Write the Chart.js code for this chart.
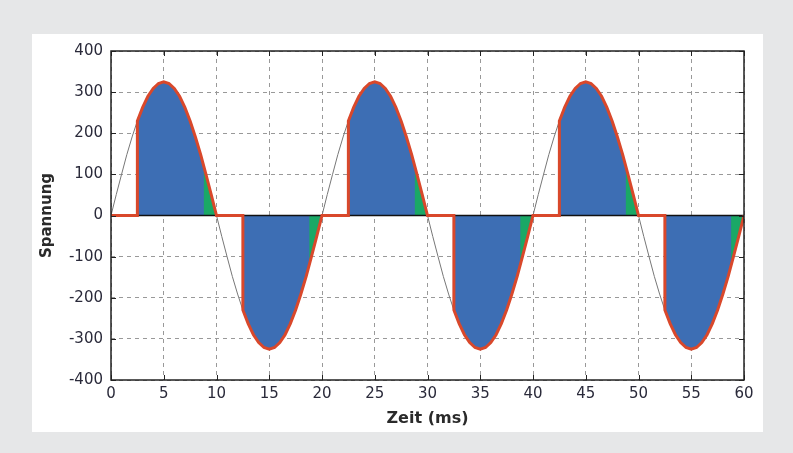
<!DOCTYPE html>
<html>
<head>
<meta charset="utf-8">
<script src="https://cdn.jsdelivr.net/npm/chart.js@4/dist/chart.umd.min.js"></script>
<style>
  html, body { margin: 0; padding: 0; background: #e6e7e8; }
  #panel { position: absolute; left: 32px; top: 34px; width: 731px; height: 398px; background: #fff; }
  #chart { display: block; }
</style>
</head>
<body>
<div id="panel"><canvas id="chart" width="731" height="398"></canvas></div>
<script>
const sineMs = [
  0, 0.5, 1, 1.5, 2, 2.5, 3, 3.5, 4, 4.5, 5, 5.5, 6, 6.5, 7, 7.5, 8, 8.5, 9, 9.5,
  10, 10.5, 11, 11.5, 12, 12.5, 13, 13.5, 14, 14.5, 15, 15.5, 16, 16.5, 17, 17.5, 18, 18.5, 19, 19.5,
  20, 20.5, 21, 21.5, 22, 22.5, 23, 23.5, 24, 24.5, 25, 25.5, 26, 26.5, 27, 27.5, 28, 28.5, 29, 29.5,
  30, 30.5, 31, 31.5, 32, 32.5, 33, 33.5, 34, 34.5, 35, 35.5, 36, 36.5, 37, 37.5, 38, 38.5, 39, 39.5,
  40, 40.5, 41, 41.5, 42, 42.5, 43, 43.5, 44, 44.5, 45, 45.5, 46, 46.5, 47, 47.5, 48, 48.5, 49, 49.5,
  50, 50.5, 51, 51.5, 52, 52.5, 53, 53.5, 54, 54.5, 55, 55.5, 56, 56.5, 57, 57.5, 58, 58.5, 59, 59.5,
  60
];
const sineV = [
  0, 51, 100, 148, 191, 230, 263, 290, 309, 321, 325, 321, 309, 290, 263, 230, 191, 148, 100, 51,
  0, -51, -100, -148, -191, -230, -263, -290, -309, -321, -325, -321, -309, -290, -263, -230, -191, -148, -100, -51,
  0, 51, 100, 148, 191, 230, 263, 290, 309, 321, 325, 321, 309, 290, 263, 230, 191, 148, 100, 51,
  0, -51, -100, -148, -191, -230, -263, -290, -309, -321, -325, -321, -309, -290, -263, -230, -191, -148, -100, -51,
  0, 51, 100, 148, 191, 230, 263, 290, 309, 321, 325, 321, 309, 290, 263, 230, 191, 148, 100, 51,
  0, -51, -100, -148, -191, -230, -263, -290, -309, -321, -325, -321, -309, -290, -263, -230, -191, -148, -100, -51,
  0
];

// Phasenanschnitt: Zuendung bei 2,5 ms nach jedem Nulldurchgang
const ctrlMs = [
  0, 2.5, 2.5, 3, 3.5, 4, 4.5, 5, 5.5, 6, 6.5, 7, 7.5, 8, 8.5, 9, 9.5, 10,
  12.5, 12.5, 13, 13.5, 14, 14.5, 15, 15.5, 16, 16.5, 17, 17.5, 18, 18.5, 19, 19.5, 20,
  22.5, 22.5, 23, 23.5, 24, 24.5, 25, 25.5, 26, 26.5, 27, 27.5, 28, 28.5, 29, 29.5, 30,
  32.5, 32.5, 33, 33.5, 34, 34.5, 35, 35.5, 36, 36.5, 37, 37.5, 38, 38.5, 39, 39.5, 40,
  42.5, 42.5, 43, 43.5, 44, 44.5, 45, 45.5, 46, 46.5, 47, 47.5, 48, 48.5, 49, 49.5, 50,
  52.5, 52.5, 53, 53.5, 54, 54.5, 55, 55.5, 56, 56.5, 57, 57.5, 58, 58.5, 59, 59.5, 60
];
const ctrlV = [
  0, 0, 230, 263, 290, 309, 321, 325, 321, 309, 290, 263, 230, 191, 148, 100, 51, 0,
  0, -230, -263, -290, -309, -321, -325, -321, -309, -290, -263, -230, -191, -148, -100, -51, 0,
  0, 230, 263, 290, 309, 321, 325, 321, 309, 290, 263, 230, 191, 148, 100, 51, 0,
  0, -230, -263, -290, -309, -321, -325, -321, -309, -290, -263, -230, -191, -148, -100, -51, 0,
  0, 230, 263, 290, 309, 321, 325, 321, 309, 290, 263, 230, 191, 148, 100, 51, 0,
  0, -230, -263, -290, -309, -321, -325, -321, -309, -290, -263, -230, -191, -148, -100, -51, 0
];

// Blauer Anteil endet bei ca. 8,8 ms jeder Halbwelle (Rest gruen)
const blueMs = [
  2.5, 2.5, 3, 3.5, 4, 4.5, 5, 5.5, 6, 6.5, 7, 7.5, 8, 8.5, 8.8, 8.8,
  12.5, 12.5, 13, 13.5, 14, 14.5, 15, 15.5, 16, 16.5, 17, 17.5, 18, 18.5, 18.8, 18.8,
  22.5, 22.5, 23, 23.5, 24, 24.5, 25, 25.5, 26, 26.5, 27, 27.5, 28, 28.5, 28.8, 28.8,
  32.5, 32.5, 33, 33.5, 34, 34.5, 35, 35.5, 36, 36.5, 37, 37.5, 38, 38.5, 38.8, 38.8,
  42.5, 42.5, 43, 43.5, 44, 44.5, 45, 45.5, 46, 46.5, 47, 47.5, 48, 48.5, 48.8, 48.8,
  52.5, 52.5, 53, 53.5, 54, 54.5, 55, 55.5, 56, 56.5, 57, 57.5, 58, 58.5, 58.8, 58.8
];
const blueV = [
  0, 230, 263, 290, 309, 321, 325, 321, 309, 290, 263, 230, 191, 148, 120, 0,
  0, -230, -263, -290, -309, -321, -325, -321, -309, -290, -263, -230, -191, -148, -120, 0,
  0, 230, 263, 290, 309, 321, 325, 321, 309, 290, 263, 230, 191, 148, 120, 0,
  0, -230, -263, -290, -309, -321, -325, -321, -309, -290, -263, -230, -191, -148, -120, 0,
  0, 230, 263, 290, 309, 321, 325, 321, 309, 290, 263, 230, 191, 148, 120, 0,
  0, -230, -263, -290, -309, -321, -325, -321, -309, -290, -263, -230, -191, -148, -120, 0
];

const zeroMs = [0, 60];
const zeroV = [0, 0];

const toPoints = (xs, ys) => xs.map((x, i) => ({ x, y: ys[i] }));

// Rahmen mit nach innen zeigenden Ticks (oben/unten/links/rechts)
const frameTicks = {
  id: 'frameTicks',
  afterDraw(chart) {
    const { ctx, chartArea: a, scales } = chart;
    const len = 5;
    ctx.save();
    ctx.strokeStyle = '#222';
    ctx.lineWidth = 1;
    ctx.beginPath();
    scales.x.ticks.forEach(t => {
      const px = Math.round(scales.x.getPixelForValue(t.value)) + 0.5;
      ctx.moveTo(px, a.top); ctx.lineTo(px, a.top + len);
      ctx.moveTo(px, a.bottom); ctx.lineTo(px, a.bottom - len);
    });
    scales.y.ticks.forEach(t => {
      const py = Math.round(scales.y.getPixelForValue(t.value)) + 0.5;
      ctx.moveTo(a.left, py); ctx.lineTo(a.left + len, py);
      ctx.moveTo(a.right, py); ctx.lineTo(a.right - len, py);
    });
    ctx.stroke();
    ctx.lineWidth = 1.5;
    ctx.strokeRect(a.left, a.top, a.right - a.left, a.bottom - a.top);
    ctx.restore();
  }
};

const fontFam = "'DejaVu Sans', Verdana, sans-serif";

new Chart(document.getElementById('chart'), {
  type: 'line',
  data: {
    datasets: [
      {
        label: 'Ausgang',
        data: toPoints(ctrlMs, ctrlV),
        borderColor: '#d9482b',
        borderWidth: 3,
        pointRadius: 0,
        fill: false
      },
      {
        label: 'Null',
        data: toPoints(zeroMs, zeroV),
        borderColor: '#111',
        borderWidth: 1.5,
        pointRadius: 0,
        fill: false
      },
      {
        label: 'blau',
        data: toPoints(blueMs, blueV),
        borderWidth: 0,
        borderColor: 'rgba(0,0,0,0)',
        backgroundColor: '#3d6eb4',
        pointRadius: 0,
        fill: 'origin'
      },
      {
        label: 'gruen',
        data: toPoints(ctrlMs, ctrlV),
        borderWidth: 0,
        borderColor: 'rgba(0,0,0,0)',
        backgroundColor: '#1aa866',
        pointRadius: 0,
        fill: 'origin'
      },
      {
        label: 'Netz',
        data: toPoints(sineMs, sineV),
        borderColor: '#777',
        borderWidth: 1,
        pointRadius: 0,
        fill: false
      }
    ]
  },
  options: {
    responsive: false,
    animation: false,
    layout: { padding: { left: 0, top: 13, right: 19, bottom: 0 } },
    plugins: {
      legend: { display: false },
      tooltip: { enabled: false }
    },
    scales: {
      x: {
        type: 'linear',
        min: 0,
        max: 60,
        ticks: { stepSize: 5, padding: 5, color: '#2a2a3a', font: { family: fontFam, size: 15 } },
        grid: { color: '#999', drawTicks: false, lineWidth: 1 },
        border: { display: false, dash: [4, 4] },
        title: {
          display: true,
          text: 'Zeit (ms)',
          color: '#2a2a2a',
          font: { family: fontFam, size: 16, weight: 'bold' },
          padding: { top: 0, bottom: 4 }
        },
        afterFit(s) { s.height = 52; }
      },
      y: {
        min: -400,
        max: 400,
        ticks: { stepSize: 100, padding: 8, color: '#2a2a3a', font: { family: fontFam, size: 15 } },
        grid: { color: '#999', drawTicks: false, lineWidth: 1 },
        border: { display: false, dash: [4, 4] },
        title: {
          display: true,
          text: 'Spannung',
          color: '#2a2a2a',
          font: { family: fontFam, size: 15, weight: 'bold' },
          padding: { top: 6, bottom: 0 }
        },
        afterFit(s) { s.width = 79; }
      }
    }
  },
  plugins: [frameTicks]
});
</script>
</body>
</html>
